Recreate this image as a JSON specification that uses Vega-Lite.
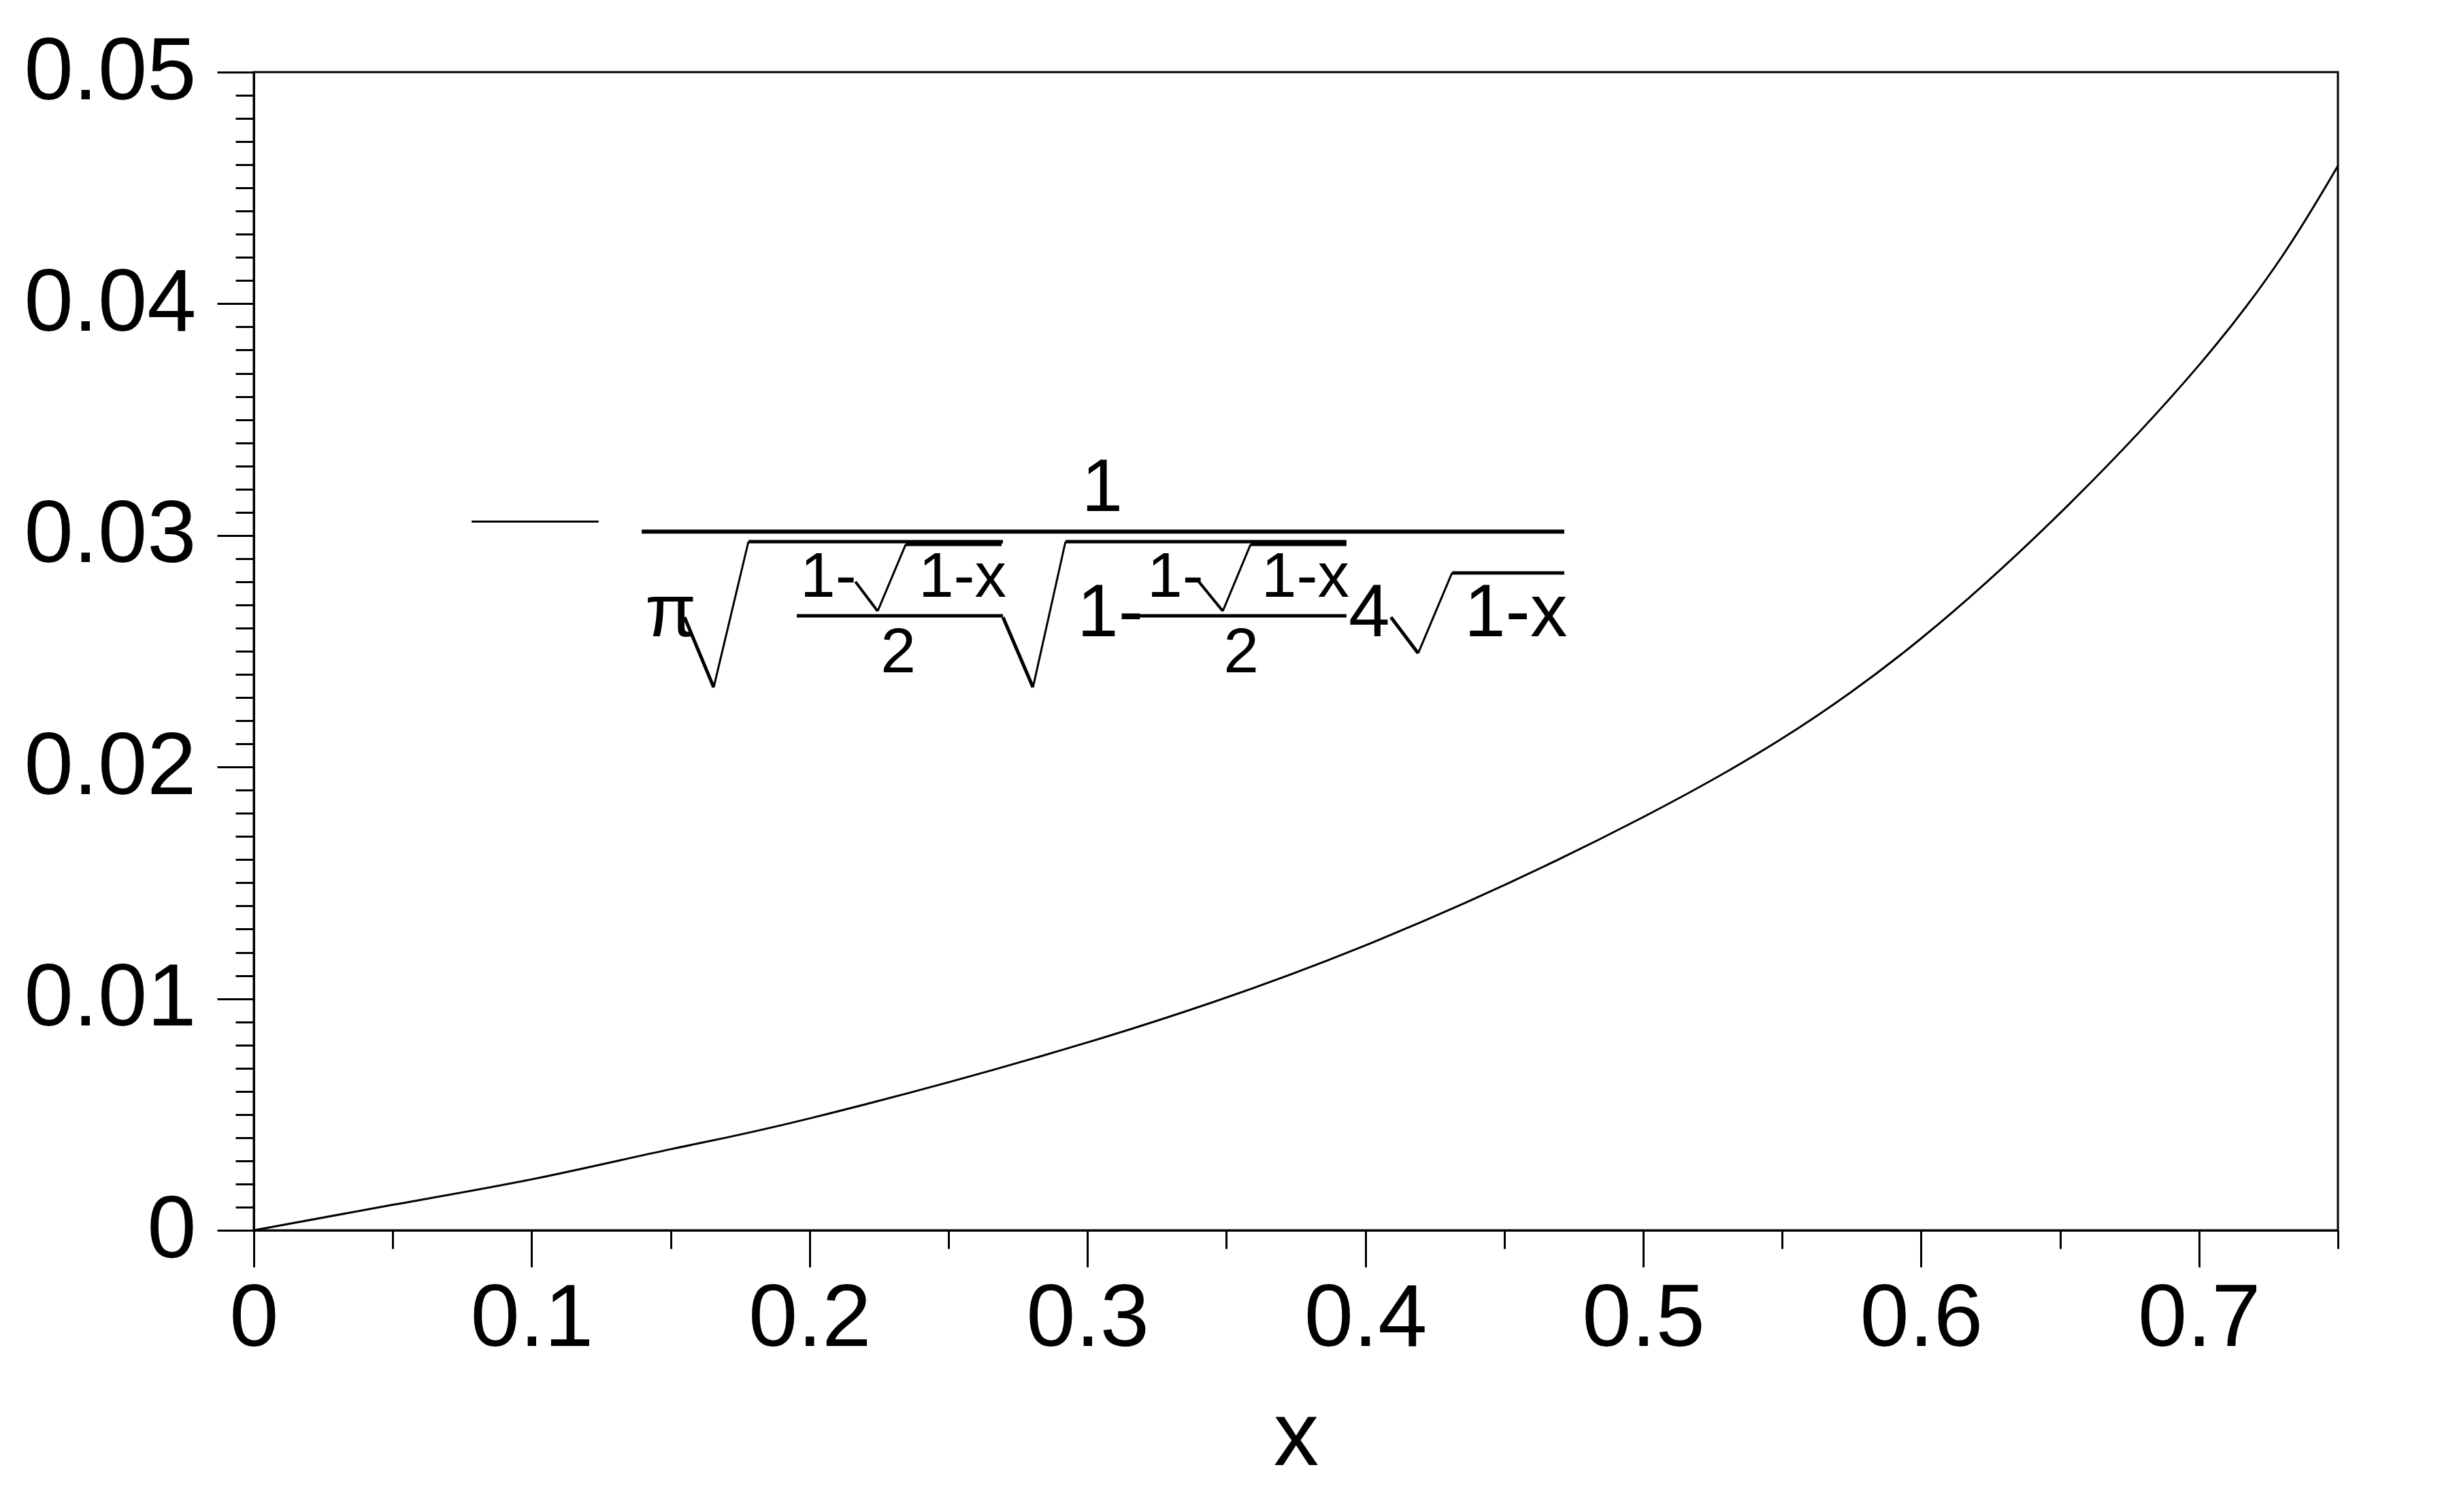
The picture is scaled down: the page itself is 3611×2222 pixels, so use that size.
{
  "$schema": "https://vega.github.io/schema/vega-lite/v6.json",
  "width": 3063,
  "height": 1702,
  "autosize": {"type": "none"},
  "padding": {"left": 373, "top": 106, "right": 175, "bottom": 414},
  "background": "white",
  "config": {
    "view": {"stroke": "black", "strokeWidth": 3},
    "axis": {"domainColor": "black", "domainWidth": 3, "tickColor": "black", "tickWidth": 3, "labelFont": "Liberation Sans", "labelFontSize": 130, "labelColor": "black", "labelLimit": 1000, "titleFont": "Liberation Sans", "titleFontWeight": "normal", "titleColor": "black", "grid": false, "labelOverlap": false, "labelFlush": false, "labelBound": false},
    "text": {"font": "Liberation Sans", "color": "black"},
    "rule": {"color": "black"}
  },
  "data": {"values": [
    {"x": 0, "y": 0},
    {"x": 0.05, "y": 0.0011},
    {"x": 0.1, "y": 0.0022},
    {"x": 0.15, "y": 0.0035},
    {"x": 0.2, "y": 0.00483},
    {"x": 0.3, "y": 0.00811},
    {"x": 0.4, "y": 0.0123},
    {"x": 0.5, "y": 0.01784},
    {"x": 0.6, "y": 0.02555},
    {"x": 0.7, "y": 0.03735},
    {"x": 0.75, "y": 0.04595}
  ]},
  "resolve": {"axis": {"x": "independent", "y": "independent"}},
  "layer": [
    {
      "mark": {"type": "line", "color": "black", "strokeWidth": 3, "interpolate": "natural"},
      "encoding": {
        "x": {"field": "x", "type": "quantitative", "scale": {"domain": [0, 0.75], "nice": false}, "axis": {"orient": "bottom", "values": [0, 0.1, 0.2, 0.3, 0.4, 0.5, 0.6, 0.7], "format": ".1~f", "tickSize": 54, "labelPadding": 12, "title": "x", "titlePadding": 44, "titleFontSize": 133}},
        "y": {"field": "y", "type": "quantitative", "scale": {"domain": [0, 0.05], "nice": false}, "axis": {"orient": "left", "values": [0, 0.01, 0.02, 0.03, 0.04, 0.05], "format": ".2~f", "tickSize": 54, "labelPadding": 31, "title": null}}
      }
    },
    {
      "mark": {"type": "line", "opacity": 0},
      "encoding": {
        "x": {"field": "x", "type": "quantitative", "scale": {"domain": [0, 0.75], "nice": false}, "axis": {"orient": "bottom", "values": [0, 0.05, 0.1, 0.15, 0.2, 0.25, 0.3, 0.35, 0.4, 0.45, 0.5, 0.55, 0.6, 0.65, 0.7, 0.75], "tickSize": 27, "labels": false, "domain": false, "title": null}},
        "y": {"field": "y", "type": "quantitative", "scale": {"domain": [0, 0.05], "nice": false}, "axis": {"orient": "left", "values": [0, 0.001, 0.002, 0.003, 0.004, 0.005, 0.006, 0.007, 0.008, 0.009, 0.01, 0.011, 0.012, 0.013, 0.014, 0.015, 0.016, 0.017, 0.018, 0.019, 0.02, 0.021, 0.022, 0.023, 0.024, 0.025, 0.026, 0.027, 0.028, 0.029, 0.03, 0.031, 0.032, 0.033, 0.034, 0.035, 0.036, 0.037, 0.038, 0.039, 0.04, 0.041, 0.042, 0.043, 0.044, 0.045, 0.046, 0.047, 0.048, 0.049, 0.05], "tickSize": 27, "labels": false, "domain": false, "title": null}}
      }
    },
    {"data": {"values": [{}]}, "mark": {"type": "rule", "strokeWidth": 3}, "encoding": {"x": {"datum": 0.0784, "type": "quantitative", "axis": null}, "y": {"datum": 0.0306, "type": "quantitative", "axis": null}, "x2": {"datum": 0.1241}, "y2": {"datum": 0.0306}}},
    {"data": {"values": [{}]}, "mark": {"type": "text", "text": "1", "fontSize": 109, "align": "center", "baseline": "alphabetic"}, "encoding": {"x": {"datum": 0.3053, "type": "quantitative", "axis": null}, "y": {"datum": 0.03105, "type": "quantitative", "axis": null}}},
    {"data": {"values": [{}]}, "mark": {"type": "rule", "strokeWidth": 6}, "encoding": {"x": {"datum": 0.1396, "type": "quantitative", "axis": null}, "y": {"datum": 0.03016, "type": "quantitative", "axis": null}, "x2": {"datum": 0.4716}, "y2": {"datum": 0.03016}}},
    {"data": {"values": [{}]}, "mark": {"type": "text", "text": "π", "fontSize": 109, "align": "left", "baseline": "alphabetic"}, "encoding": {"x": {"datum": 0.1408, "type": "quantitative", "axis": null}, "y": {"datum": 0.02565, "type": "quantitative", "axis": null}}},

    {"data": {"values": [{}]}, "mark": {"type": "rule", "strokeWidth": 5}, "encoding": {"x": {"datum": 0.155, "type": "quantitative", "axis": null}, "y": {"datum": 0.02647, "type": "quantitative", "axis": null}, "x2": {"datum": 0.1655}, "y2": {"datum": 0.02344}}},
    {"data": {"values": [{}]}, "mark": {"type": "rule", "strokeWidth": 3}, "encoding": {"x": {"datum": 0.1655, "type": "quantitative", "axis": null}, "y": {"datum": 0.02344, "type": "quantitative", "axis": null}, "x2": {"datum": 0.178}, "y2": {"datum": 0.02973}}},
    {"data": {"values": [{}]}, "mark": {"type": "rule", "strokeWidth": 5}, "encoding": {"x": {"datum": 0.178, "type": "quantitative", "axis": null}, "y": {"datum": 0.02973, "type": "quantitative", "axis": null}, "x2": {"datum": 0.2696}, "y2": {"datum": 0.02973}}},

    {"data": {"values": [{}]}, "mark": {"type": "text", "text": "1-", "fontSize": 93, "align": "left", "baseline": "alphabetic"}, "encoding": {"x": {"datum": 0.1966, "type": "quantitative", "axis": null}, "y": {"datum": 0.02736, "type": "quantitative", "axis": null}}},
    {"data": {"values": [{}]}, "mark": {"type": "rule", "strokeWidth": 4}, "encoding": {"x": {"datum": 0.2165, "type": "quantitative", "axis": null}, "y": {"datum": 0.028, "type": "quantitative", "axis": null}, "x2": {"datum": 0.2245}, "y2": {"datum": 0.02673}}},
    {"data": {"values": [{}]}, "mark": {"type": "rule", "strokeWidth": 3}, "encoding": {"x": {"datum": 0.2245, "type": "quantitative", "axis": null}, "y": {"datum": 0.02673, "type": "quantitative", "axis": null}, "x2": {"datum": 0.2346}, "y2": {"datum": 0.02961}}},
    {"data": {"values": [{}]}, "mark": {"type": "rule", "strokeWidth": 5}, "encoding": {"x": {"datum": 0.2346, "type": "quantitative", "axis": null}, "y": {"datum": 0.02961, "type": "quantitative", "axis": null}, "x2": {"datum": 0.2691}, "y2": {"datum": 0.02961}}},
    {"data": {"values": [{}]}, "mark": {"type": "text", "text": "1-x", "fontSize": 93, "align": "left", "baseline": "alphabetic"}, "encoding": {"x": {"datum": 0.2392, "type": "quantitative", "axis": null}, "y": {"datum": 0.02736, "type": "quantitative", "axis": null}}},
    {"data": {"values": [{}]}, "mark": {"type": "rule", "strokeWidth": 5}, "encoding": {"x": {"datum": 0.1954, "type": "quantitative", "axis": null}, "y": {"datum": 0.02653, "type": "quantitative", "axis": null}, "x2": {"datum": 0.2696}, "y2": {"datum": 0.02653}}},
    {"data": {"values": [{}]}, "mark": {"type": "text", "text": "2", "fontSize": 93, "align": "center", "baseline": "alphabetic"}, "encoding": {"x": {"datum": 0.2319, "type": "quantitative", "axis": null}, "y": {"datum": 0.02409, "type": "quantitative", "axis": null}}},

    {"data": {"values": [{}]}, "mark": {"type": "rule", "strokeWidth": 5}, "encoding": {"x": {"datum": 0.2696, "type": "quantitative", "axis": null}, "y": {"datum": 0.02647, "type": "quantitative", "axis": null}, "x2": {"datum": 0.2804}, "y2": {"datum": 0.02344}}},
    {"data": {"values": [{}]}, "mark": {"type": "rule", "strokeWidth": 3}, "encoding": {"x": {"datum": 0.2804, "type": "quantitative", "axis": null}, "y": {"datum": 0.02344, "type": "quantitative", "axis": null}, "x2": {"datum": 0.2921}, "y2": {"datum": 0.02973}}},
    {"data": {"values": [{}]}, "mark": {"type": "rule", "strokeWidth": 5}, "encoding": {"x": {"datum": 0.2921, "type": "quantitative", "axis": null}, "y": {"datum": 0.02973, "type": "quantitative", "axis": null}, "x2": {"datum": 0.3932}, "y2": {"datum": 0.02973}}},
    {"data": {"values": [{}]}, "mark": {"type": "text", "text": "1-", "fontSize": 109, "align": "left", "baseline": "alphabetic"}, "encoding": {"x": {"datum": 0.2963, "type": "quantitative", "axis": null}, "y": {"datum": 0.02565, "type": "quantitative", "axis": null}}},
    {"data": {"values": [{}]}, "mark": {"type": "rule", "strokeWidth": 5}, "encoding": {"x": {"datum": 0.3188, "type": "quantitative", "axis": null}, "y": {"datum": 0.02653, "type": "quantitative", "axis": null}, "x2": {"datum": 0.3932}, "y2": {"datum": 0.02653}}},
    {"data": {"values": [{}]}, "mark": {"type": "text", "text": "1-", "fontSize": 93, "align": "left", "baseline": "alphabetic"}, "encoding": {"x": {"datum": 0.3215, "type": "quantitative", "axis": null}, "y": {"datum": 0.02736, "type": "quantitative", "axis": null}}},
    {"data": {"values": [{}]}, "mark": {"type": "rule", "strokeWidth": 4}, "encoding": {"x": {"datum": 0.3401, "type": "quantitative", "axis": null}, "y": {"datum": 0.028, "type": "quantitative", "axis": null}, "x2": {"datum": 0.3487}, "y2": {"datum": 0.02673}}},
    {"data": {"values": [{}]}, "mark": {"type": "rule", "strokeWidth": 3}, "encoding": {"x": {"datum": 0.3487, "type": "quantitative", "axis": null}, "y": {"datum": 0.02673, "type": "quantitative", "axis": null}, "x2": {"datum": 0.3587}, "y2": {"datum": 0.02961}}},
    {"data": {"values": [{}]}, "mark": {"type": "rule", "strokeWidth": 5}, "encoding": {"x": {"datum": 0.3587, "type": "quantitative", "axis": null}, "y": {"datum": 0.02961, "type": "quantitative", "axis": null}, "x2": {"datum": 0.3932}, "y2": {"datum": 0.02961}}},
    {"data": {"values": [{}]}, "mark": {"type": "text", "text": "1-x", "fontSize": 93, "align": "left", "baseline": "alphabetic"}, "encoding": {"x": {"datum": 0.3626, "type": "quantitative", "axis": null}, "y": {"datum": 0.02736, "type": "quantitative", "axis": null}}},
    {"data": {"values": [{}]}, "mark": {"type": "text", "text": "2", "fontSize": 93, "align": "center", "baseline": "alphabetic"}, "encoding": {"x": {"datum": 0.3553, "type": "quantitative", "axis": null}, "y": {"datum": 0.02409, "type": "quantitative", "axis": null}}},

    {"data": {"values": [{}]}, "mark": {"type": "text", "text": "4", "fontSize": 109, "align": "left", "baseline": "alphabetic"}, "encoding": {"x": {"datum": 0.394, "type": "quantitative", "axis": null}, "y": {"datum": 0.02565, "type": "quantitative", "axis": null}}},
    {"data": {"values": [{}]}, "mark": {"type": "rule", "strokeWidth": 5}, "encoding": {"x": {"datum": 0.4092, "type": "quantitative", "axis": null}, "y": {"datum": 0.02647, "type": "quantitative", "axis": null}, "x2": {"datum": 0.419}, "y2": {"datum": 0.02491}}},
    {"data": {"values": [{}]}, "mark": {"type": "rule", "strokeWidth": 3}, "encoding": {"x": {"datum": 0.419, "type": "quantitative", "axis": null}, "y": {"datum": 0.02491, "type": "quantitative", "axis": null}, "x2": {"datum": 0.4312}, "y2": {"datum": 0.02838}}},
    {"data": {"values": [{}]}, "mark": {"type": "rule", "strokeWidth": 5}, "encoding": {"x": {"datum": 0.4312, "type": "quantitative", "axis": null}, "y": {"datum": 0.02838, "type": "quantitative", "axis": null}, "x2": {"datum": 0.4716}, "y2": {"datum": 0.02838}}},
    {"data": {"values": [{}]}, "mark": {"type": "text", "text": "1-x", "fontSize": 109, "align": "left", "baseline": "alphabetic"}, "encoding": {"x": {"datum": 0.4356, "type": "quantitative", "axis": null}, "y": {"datum": 0.02565, "type": "quantitative", "axis": null}}}
  ]
}
